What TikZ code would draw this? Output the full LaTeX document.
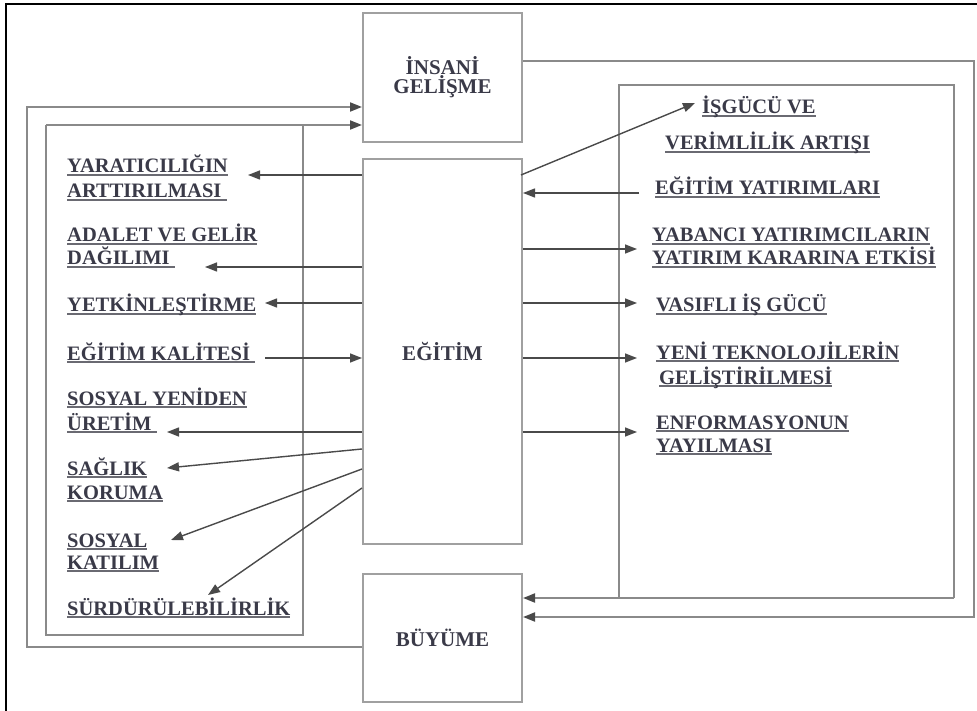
\documentclass[tikz,border=0pt]{standalone}
\usepackage{fontspec}
\setmainfont{Liberation Serif}
\usetikzlibrary{arrows.meta}
\definecolor{txt}{HTML}{3A3A48}
\definecolor{ulc}{HTML}{6A6A72}
\definecolor{boxc}{HTML}{A0A0A0}
\definecolor{linec}{HTML}{8A8A8A}
\definecolor{arrc}{HTML}{4A4A4A}
\newsavebox\ulbox
\newcommand\ulx[1]{\sbox\ulbox{#1}\rlap{\textcolor{ulc}{\rule[-2.8pt]{\wd\ulbox}{1.5pt}}}\usebox\ulbox}
\begin{document}
\begin{tikzpicture}[x=1pt,y=-1pt,
  box/.style={draw=boxc, line width=2pt, minimum width=159pt, inner sep=0pt,
    font=\fontsize{21}{18}\selectfont\bfseries, text=txt, align=center, anchor=north west},
  lab/.style={inner sep=0pt, anchor=base west, font=\fontsize{20.5}{24}\selectfont\bfseries, text=txt},
  frame/.style={draw=linec, line width=1.8pt},
  tip/.style={-{Triangle[length=12pt,width=9pt,color=arrc]}},
  arr/.style={draw=arrc, line width=1.4pt, tip}]
\useasboundingbox[fill=white] (0,0) rectangle (977,711);
% outer page frame (top and left only)
\draw[black, line width=2.5pt] (6,711) -- (6,4) -- (977,4);

% main boxes
\node[box, minimum height=129pt] (insani) at (362,12) {İNSANİ\\GELİŞME};
\node[box, minimum height=385pt] (egitim) at (362,158) {EĞİTİM};
\node[box, minimum height=128pt] (buyume) at (362,573) {BÜYÜME};

% loop coordinates
\coordinate (oLb) at (27,647);
\coordinate (oLt) at (27,107);
\coordinate (iLt) at (46,125);
\coordinate (iLb) at (46,635);
\coordinate (iRt) at (303,125);
\coordinate (iRb) at (303,635);
\coordinate (oRt) at (974,61);
\coordinate (oRb) at (974,617);
\coordinate (rLt) at (619,85);
\coordinate (rLb) at (619,598);
\coordinate (rRt) at (954,85);
\coordinate (rRb) at (954,598);

% left loops
\draw[frame, tip] (buyume.west |- oLb) -- (oLb) -- (oLt) -- (insani.west |- oLt);
\draw[frame] (iRt) -- (iRb) -- (iLb) -- (iLt);
\draw[frame, tip] (iLt) -- (insani.west |- iLt);
% right loops
\draw[frame, tip] (insani.east |- oRt) -- (oRt) -- (oRb) -- (buyume.east |- oRb);
\draw[frame] (rLb) -- (rLt) -- (rRt) -- (rRb);
\draw[frame, tip] (rRb) -- (buyume.east |- rRb);

% left labels
\node[lab] (l1a) at (67,173) {\ulx{YARATICILIĞIN}};
\node[lab] (l1b) at (67,198) {\ulx{ARTTIRILMASI\ }};
\node[lab] (l2a) at (67,242) {\ulx{ADALET VE GELİR}};
\node[lab] (l2b) at (67,265) {\ulx{DAĞILIMI\ }};
\node[lab] (l3) at (67,312) {\ulx{YETKİNLEŞTİRME}};
\node[lab] (l4) at (67,360) {\ulx{EĞİTİM KALİTESİ\ }};
\node[lab] (l5a) at (67,405) {\ulx{SOSYAL YENİDEN}};
\node[lab] (l5b) at (67,430) {\ulx{ÜRETİM\ }};
\node[lab] (l6a) at (67,475) {\ulx{SAĞLIK}};
\node[lab] (l6b) at (67,499) {\ulx{KORUMA}};
\node[lab] (l7a) at (67,547) {\ulx{SOSYAL}};
\node[lab] (l7b) at (67,569) {\ulx{KATILIM}};
\node[lab] (l8) at (67,615) {\ulx{SÜRDÜRÜLEBİLİRLİK}};

% right labels
\node[lab] (r1a) at (702,114) {\ulx{İŞGÜCÜ VE}};
\node[lab] (r1b) at (665,150) {\ulx{VERİMLİLİK ARTIŞI}};
\node[lab] (r2) at (655,195) {\ulx{EĞİTİM YATIRIMLARI}};
\node[lab] (r3a) at (652,242) {\ulx{YABANCI YATIRIMCILARIN}};
\node[lab] (r3b) at (652,265) {\ulx{YATIRIM KARARINA ETKİSİ}};
\node[lab] (r4) at (656,312) {\ulx{VASIFLI İŞ GÜCÜ}};
\node[lab] (r5a) at (656,359) {\ulx{YENİ TEKNOLOJİLERİN}};
\node[lab] (r5b) at (659,384) {\ulx{GELİŞTİRİLMESİ}};
\node[lab] (r6a) at (656,429) {\ulx{ENFORMASYONUN}};
\node[lab] (r6b) at (656,452) {\ulx{YAYILMASI}};

% arrow end points (left)
\coordinate (t1) at (248,175);
\coordinate (t2) at (205,267);
\coordinate (t3) at (265,303);
\coordinate (t4) at (265,358);
\coordinate (t5) at (167,432);
\coordinate (s6) at (362,449);
\coordinate (t6) at (167,468);
\coordinate (s7) at (362,469);
\coordinate (t7) at (171,540);
\coordinate (s8) at (362,488);
\coordinate (t8) at (208,595);
% arrow end points (right)
\coordinate (s9) at (521,175);
\coordinate (t9) at (695,103);
\coordinate (t10) at (639,193);
\coordinate (t11) at (637,249);
\coordinate (t12) at (637,303);
\coordinate (t13) at (637,358);
\coordinate (t14) at (637,432);

% left arrows
\draw[arr] (egitim.west |- t1) -- (t1);
\draw[arr] (egitim.west |- t2) -- (t2);
\draw[arr] (egitim.west |- t3) -- (t3);
\draw[arr] (t4) -- (egitim.west |- t4);
\draw[arr] (egitim.west |- t5) -- (t5);
\draw[arr] (s6) -- (t6);
\draw[arr] (s7) -- (t7);
\draw[arr] (s8) -- (t8);
% right arrows
\draw[arr] (s9) -- (t9);
\draw[arr] (t10) -- (egitim.east |- t10);
\draw[arr] (egitim.east |- t11) -- (t11);
\draw[arr] (egitim.east |- t12) -- (t12);
\draw[arr] (egitim.east |- t13) -- (t13);
\draw[arr] (egitim.east |- t14) -- (t14);
\end{tikzpicture}
\end{document}
